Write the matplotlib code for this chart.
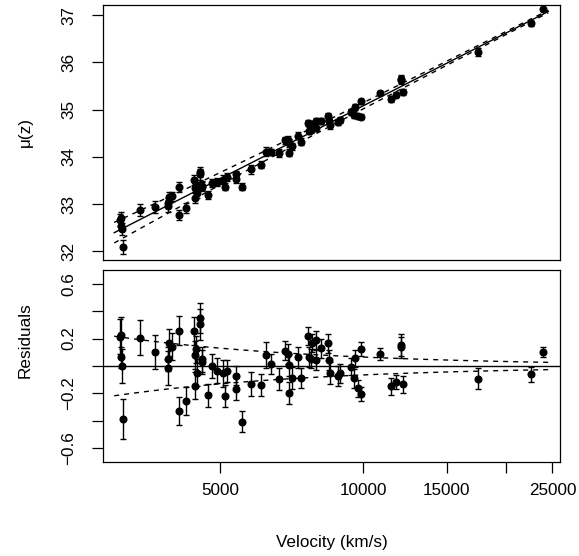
import numpy as np
import matplotlib.pyplot as plt

## Data (velocity in km/s, residual in mag, 1-sigma error)
velocity = [3084, 3104, 3104, 3109, 3124, 3398, 3649, 3898, 3898, 3910,
            3975, 4113, 4113, 4255, 4423, 4444, 4444, 4466, 4479, 4553,
            4553, 4589, 4589, 4724, 4810, 4935, 5080, 5129, 5179, 5395,
            5395, 5570, 5804, 6099, 6257, 6401, 6664, 6857, 6951, 6991,
            7080, 7002, 7313, 7403, 7677, 7684, 7789, 7827, 7969, 7969,
            8175, 8426, 8479, 8520, 8858, 8946, 9430, 9573, 9620, 9741,
            9879, 9879, 10860, 11440, 11710, 12040, 12040, 12140, 17400, 22500,
            23890]
residual = [0.214, 0.225, 0.064, 0.002, -0.388, 0.207, 0.102, 0.051, -0.015, 0.170,
            0.141, 0.256, -0.327, -0.256, 0.254, 0.080, -0.144, 0.122, -0.049, 0.352,
            0.303, 0.048, 0.029, -0.215, 0.001, -0.034, -0.053, -0.219, -0.036, -0.071,
            -0.165, -0.407, -0.131, -0.139, 0.077, 0.015, -0.094, 0.112, 0.089, 0.007,
            -0.087, -0.195, 0.063, -0.087, 0.220, 0.066, 0.053, 0.166, 0.190, 0.044,
            0.129, 0.166, 0.044, -0.053, -0.073, -0.053, -0.005, -0.090, 0.056, -0.163,
            0.122, -0.205, 0.086, -0.149, -0.115, 0.150, 0.135, -0.134, -0.093, -0.061,
            0.102]
mu_err = [0.130, 0.135, 0.075, 0.125, 0.145, 0.128, 0.123, 0.090, 0.125, 0.100,
          0.100, 0.105, 0.100, 0.100, 0.100, 0.100, 0.100, 0.100, 0.100, 0.110,
          0.110, 0.090, 0.090, 0.084, 0.090, 0.090, 0.100, 0.083, 0.080, 0.070,
          0.083, 0.076, 0.090, 0.080, 0.095, 0.070, 0.080, 0.070, 0.075, 0.080,
          0.080, 0.080, 0.075, 0.070, 0.067, 0.070, 0.070, 0.065, 0.065, 0.070,
          0.070, 0.070, 0.070, 0.080, 0.070, 0.070, 0.060, 0.070, 0.060, 0.060,
          0.050, 0.053, 0.045, 0.063, 0.050, 0.080, 0.080, 0.063, 0.077, 0.055,
          0.033]

## Hubble-law fit: mu = a + b*log10(v)
fit_intercept = 14.56
fit_slope = 5.13
sigma_pec = 300.0  # km/s, width of the dashed bands

x_ticks = [5000, 10000, 15000, 20000, 25000]
x_ticklabels = ["5000", "10000", "15000", "", "25000"]
top_yticks = [32, 33, 34, 35, 36, 37]
res_yticks = [0.6, 0.4, 0.2, 0.0, -0.2, -0.4, -0.6]
res_yticklabels = ["0.6", "", "0.2", "", "\u22120.2", "", "\u22120.6"]

plt.rcParams['font.family'] = ['Liberation Sans', 'DejaVu Sans']
plt.rcParams['font.size'] = 12.3

v = np.array(velocity, dtype=float)
res = np.array(residual)
err = np.array(mu_err)
mu = fit_intercept + fit_slope*np.log10(v) + res

vgrid = np.geomspace(3000, 24500, 200)
fit = fit_intercept + fit_slope*np.log10(vgrid)
band = 5/np.log(10)*sigma_pec/vgrid

# R style x limits (4% padding on log range)
lo, hi = np.log10(v.min()), np.log10(v.max())
pad = 0.04*(hi - lo)
xlim = (10**(lo - pad), 10**(hi + pad))

W, H = 579, 556
fig = plt.figure(figsize=(W/100, H/100), dpi=100)
ax1 = fig.add_axes([103/W, 1 - 260/H, 457/W, 255.3/H])
ax2 = fig.add_axes([103/W, 1 - 462/H, 457/W, 192/H])

dash = (0, (3.6, 3.6))
eb = dict(fmt='o', color='black', ms=4.8, elinewidth=1.0, capsize=2.5, capthick=1.0)

##Top panel
ax1.errorbar(v, mu, yerr=err, **eb)
ax1.plot(vgrid, fit, color='black', lw=1.0)
ax1.plot(vgrid, fit + band, color='black', lw=1.0, linestyle=dash)
ax1.plot(vgrid, fit - band, color='black', lw=1.0, linestyle=dash)
ax1.set_xscale('log')
ax1.set_xlim(xlim)
ax1.set_ylim(31.82, 37.22)
ax1.set_xticks([])
ax1.minorticks_off()
ax1.set_yticks(top_yticks)

##Residual panel
ax2.errorbar(v, res, yerr=err, **eb)
ax2.axhline(0, color='black', lw=1.0)
ax2.plot(vgrid, band, color='black', lw=1.0, linestyle=dash)
ax2.plot(vgrid, -band, color='black', lw=1.0, linestyle=dash)
ax2.set_xscale('log')
ax2.set_xlim(xlim)
ax2.set_ylim(-0.7, 0.7)
ax2.minorticks_off()
ax2.set_xticks(x_ticks)
ax2.set_xticklabels(x_ticklabels)
ax2.set_yticks(res_yticks)
ax2.set_yticklabels(res_yticklabels)

for ax in (ax1, ax2):
    for s in ax.spines.values():
        s.set_linewidth(0.9)
    ax.tick_params(axis='both', direction='out', length=8, width=0.9)
    ax.tick_params(axis='y', pad=11.5)
    ax.tick_params(axis='x', pad=7)
    for lab in ax.get_yticklabels():
        lab.set_rotation(90)
        lab.set_va('center')

fig.text(29.5/W, 1 - 132/H, "\u03bc(z)", rotation=90, rotation_mode='anchor',
         ha='center', va='baseline')
fig.text(29.5/W, 1 - 340/H, "Residuals", rotation=90, rotation_mode='anchor',
         ha='center', va='baseline')
fig.text(331.5/W, 1 - 547.5/H, "Velocity (km/s)", ha='center', va='baseline')

fig.savefig("out.png", dpi=100)
